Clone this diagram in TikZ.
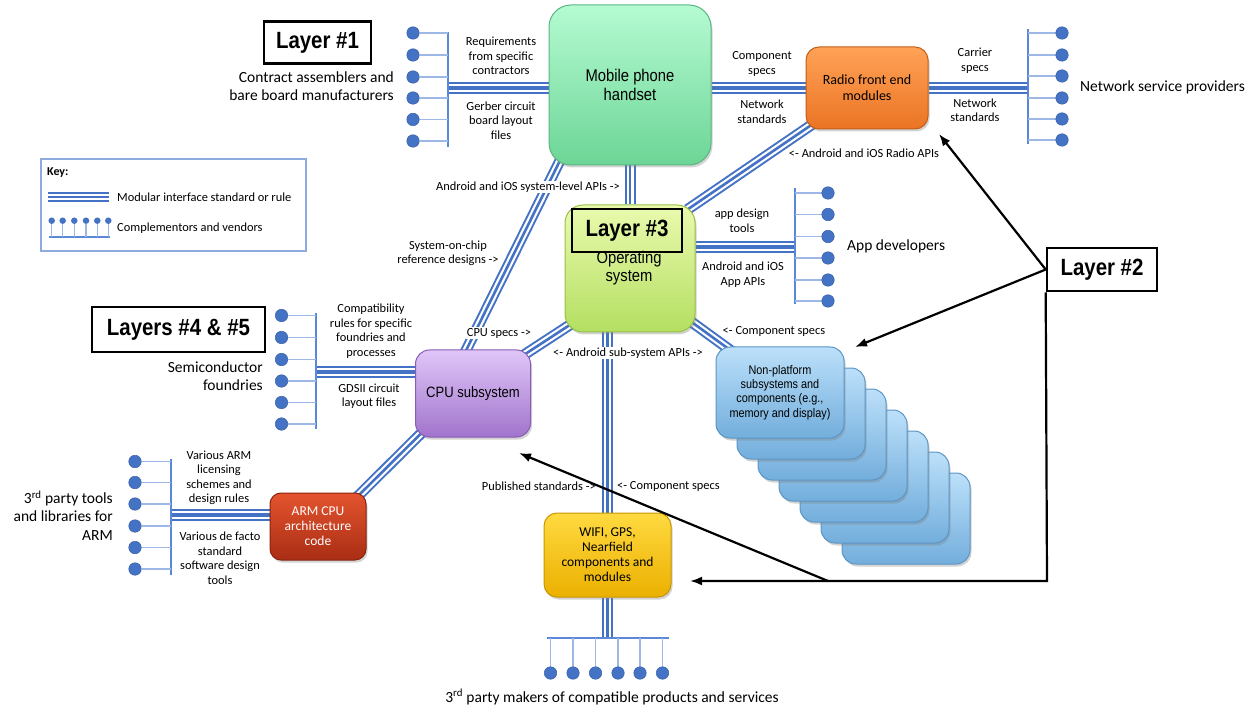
\documentclass[tikz,border=0pt]{standalone}
\usepackage{fontspec}
\setmainfont{Carlito}
\newfontfamily\nfont{Liberation Sans}[FakeStretch=0.87]
\newfontfamily\lfont{Liberation Sans}[FakeStretch=0.87]
\usetikzlibrary{shadows,arrows.meta,calc}
\pgfdeclarelayer{bg}
\pgfsetlayers{bg,main}
\definecolor{ifblue}{HTML}{4472C4}
\definecolor{busblue}{HTML}{5B88D6}
\definecolor{stubblue}{HTML}{9DB7E6}
\definecolor{keyblue}{HTML}{8FAADC}
\definecolor{hsT}{HTML}{B5FBD2}\definecolor{hsB}{HTML}{6CD596}\definecolor{hsD}{HTML}{5BB583}
\definecolor{rfT}{HTML}{FFA257}\definecolor{rfB}{HTML}{EB7424}\definecolor{rfD}{HTML}{C45D16}
\definecolor{osT}{HTML}{EAFAAE}\definecolor{osB}{HTML}{B4DF62}\definecolor{osD}{HTML}{98C048}
\definecolor{cpT}{HTML}{E0C6F8}\definecolor{cpB}{HTML}{A174CC}\definecolor{cpD}{HTML}{8A5CB5}
\definecolor{arT}{HTML}{E4542E}\definecolor{arB}{HTML}{A92D14}\definecolor{arD}{HTML}{8A2410}
\definecolor{wfT}{HTML}{FFDA40}\definecolor{wfB}{HTML}{EBB000}\definecolor{wfD}{HTML}{C99700}
\definecolor{npT}{HTML}{BCE0FA}\definecolor{npB}{HTML}{73AEDC}\definecolor{npD}{HTML}{5C95C4}
\tikzset{
  ifh/.style={draw=ifblue, line width=12pt, postaction={draw=white, line width=8pt}, postaction={draw=ifblue, line width=4pt}},
  ifd/.style={draw=ifblue, line width=11pt, postaction={draw=white, line width=7pt}, postaction={draw=ifblue, line width=2.6pt}},
  ifk/.style={draw=ifblue, line width=10pt, postaction={draw=white, line width=6.4pt}, postaction={draw=ifblue, line width=2pt}},
  cbox/.style={drop shadow={shadow xshift=1.5pt, shadow yshift=-2.5pt, opacity=0.35}, line width=1pt, align=center, inner sep=2pt},
  layerbox/.style={draw=black, line width=2.6pt, font=\lfont\bfseries\fontsize{23.5}{26}\selectfont, inner sep=0pt},
  lbl/.style={font=\fontsize{12.4}{14.5}\selectfont, align=center, inner sep=1pt},
  lblw/.style={lbl, fill=white},
  grp/.style={font=\fontsize{15.5}{18.5}\selectfont, inner sep=0pt},
  dot/.style={circle, fill=ifblue, draw=ifblue!85!black, line width=0.5pt, inner sep=0pt, minimum size=12.5pt},
  kdot/.style={circle, fill=ifblue, inner sep=0pt, minimum size=6.5pt},
  bus/.style={draw=busblue, line width=2pt},
  stub/.style={draw=stubblue, line width=1.4pt},
  arr/.style={draw=black, line width=2.2pt, -{Latex[length=12pt,width=9pt]}},
  npbox/.style={cbox, rounded corners=14pt, minimum width=128pt, minimum height=91pt, top color=npT, bottom color=npB, draw=npD},
}
\begin{document}
\begin{tikzpicture}[x=1pt,y=-1pt]
\useasboundingbox (0,0) rectangle (1255,708);

% ---------- boxes ----------
\node[cbox, rounded corners=22pt, minimum width=162pt, minimum height=160pt, top color=hsT, bottom color=hsB, draw=hsD,
      font=\nfont\fontsize{17}{19}\selectfont] (hs) at (630,85) {Mobile phone\\handset};
\node[cbox, rounded corners=13pt, minimum width=122pt, minimum height=82pt, top color=rfT, bottom color=rfB, draw=rfD,
      font=\fontsize{14}{16}\selectfont] (rf) at (867,88) {Radio front end\\modules};
\node[cbox, rounded corners=18pt, minimum width=130pt, minimum height=127pt, top color=osT, bottom color=osB, draw=osD] (os) at (630,268.5) {};
\node[font=\nfont\fontsize{17}{18}\selectfont, align=center, inner sep=0pt] (ostext) at (629,268) {Operating\\system};
\node[cbox, rounded corners=14pt, minimum width=115pt, minimum height=87pt, top color=cpT, bottom color=cpB, draw=cpD,
      font=\nfont\fontsize{15}{17}\selectfont] (cpu) at (473,393.5) {CPU subsystem};
\node[cbox, rounded corners=11pt, minimum width=96pt, minimum height=67pt, top color=arT, bottom color=arB, draw=arD,
      text=white, font=\fontsize{13.5}{15}\selectfont] (arm) at (318,526.5) {ARM CPU\\architecture\\code};
\node[cbox, rounded corners=13pt, minimum width=127pt, minimum height=84pt, top color=wfT, bottom color=wfB, draw=wfD,
      font=\fontsize{13.5}{15}\selectfont] (wifi) at (607.5,555) {WIFI, GPS,\\Nearfield\\components and\\modules};
\foreach \k in {6,5,4,3,2,1}{
  \node[npbox] (np\k) at ({780+21*\k},{392.5+21*\k}) {};
}
\node[npbox, font=\nfont\fontsize{12.5}{14.3}\selectfont] (np0) at (780,392.5) {Non-platform\\subsystems and\\components (e.g.,\\memory and display)};

% ---------- layer labels ----------
\node[layerbox, fill=white, minimum width=107pt, minimum height=42pt] (L1) at (317.5,42.5) {Layer \#1};
\node[layerbox, minimum width=110pt, minimum height=43pt] (L3) at (627,230.5) {Layer \#3};
\node[layerbox, fill=white, minimum width=110pt, minimum height=43pt] (L2) at (1102,269.5) {Layer \#2};
\node[layerbox, fill=white, minimum width=173pt, minimum height=45pt] (L45) at (178.5,329.5) {Layers \#4 \& \#5};

% ---------- bus coordinates ----------
\coordinate (b1t) at (448,32);   \coordinate (b1b) at (448,147);  \coordinate (b1m) at (448,88);
\coordinate (b2t) at (1028,29);  \coordinate (b2b) at (1028,144); \coordinate (b2m) at (1028,88);
\coordinate (b3t) at (795,188);  \coordinate (b3b) at (795,304);  \coordinate (b3m) at (795,247);
\coordinate (b4t) at (316,313);  \coordinate (b4b) at (316,429);  \coordinate (b4m) at (316,372);
\coordinate (b5l) at (547,638);  \coordinate (b5r) at (669,638);  \coordinate (b5m) at (607.5,638);
\coordinate (b6t) at (170.5,459);\coordinate (b6b) at (170.5,575);\coordinate (b6m) at (170.5,515);

% ---------- dots ----------
\foreach \y [count=\i] in {33,55,77,98,119.5,141}{\node[dot] (d1-\i) at (413,\y) {};}
\foreach \y [count=\i] in {33,55,76,98,119,140}{\node[dot] (d2-\i) at (1062,\y) {};}
\foreach \y [count=\i] in {193,214.5,236.5,258,280,301}{\node[dot] (d3-\i) at (828,\y) {};}
\foreach \y [count=\i] in {315.5,337.5,359.5,381,402.5,424}{\node[dot] (d4-\i) at (281.5,\y) {};}
\foreach \x [count=\i] in {550.5,573,595.5,618,640,662.5}{\node[dot] (d5-\i) at (\x,673) {};}
\foreach \y [count=\i] in {461.5,482.5,504,526,547.5,569}{\node[dot] (d6-\i) at (135,\y) {};}

% ---------- connectors (background) ----------
\begin{pgfonlayer}{bg}
  \draw[ifh] (b1m) -- (b1m -| hs.west);
  \draw[ifh] (rf.west -| hs.east) -- (rf.west);
  \draw[ifh] (rf.east) -- (b2m);
  \draw[ifd] ($(rf.south west)+(8,-6)$) -- ($(os.north east)+(-8,5)$);
  \draw[ifd] (hs.south) -- (os.north);
  \draw[ifd] ($(hs.south west)+(13,-8)$) -- ($(cpu.north)+(-8,3)$);
  \draw[ifd] ($(os.south west)+(6,-8)$) -- ($(cpu.north east)+(-8,6)$);
  \draw[ifd] ($(os.south east)+(-6,-12)$) -- ($(np0.north west)+(18,6)$);
  \draw[ifh] (b3m -| os.east) -- (b3m);
  \draw[ifd] (os.south -| wifi.north) -- (wifi.north);
  \draw[ifd] (wifi.south) -- (b5m);
  \draw[ifh] (b4m) -- (b4m -| cpu.west);
  \draw[ifd] ($(cpu.south west)+(8,-6)$) -- ($(arm.north east)+(-11,6)$);
  \draw[ifh] (b6m) -- (b6m -| arm.west);
  % buses
  \draw[bus] (b1t) -- (b1b);
  \draw[bus] (b2t) -- (b2b);
  \draw[bus] (b3t) -- (b3b);
  \draw[bus] (b4t) -- (b4b);
  \draw[bus] (b5l) -- (b5r);
  \draw[bus] (b6t) -- (b6b);
  \foreach \i in {1,...,6}{
    \draw[stub] (d1-\i.east) -- (d1-\i -| b1t);
    \draw[stub] (d2-\i.west) -- (d2-\i -| b2t);
    \draw[stub] (d3-\i.west) -- (d3-\i -| b3t);
    \draw[stub] (d4-\i.east) -- (d4-\i -| b4t);
    \draw[stub] (d5-\i.north) -- (d5-\i |- b5l);
    \draw[stub] (d6-\i.east) -- (d6-\i -| b6t);
  }
\end{pgfonlayer}

% ---------- connector labels ----------
\node[lbl] (t1) at (501,56) {Requirements\\from specific\\contractors};
\node[lbl] (t2) at (501,120.5) {Gerber circuit\\board layout\\files};
\node[lbl] (t3) at (762,64) {Component\\specs};
\node[lbl] (t4) at (762,111.5) {Network\\standards};
\node[lbl] (t5) at (975,60.5) {Carrier\\specs};
\node[lbl] (t6) at (975,110) {Network\\standards};
\node[lbl] (t7) at (864,153) {<- Android and iOS Radio APIs};
\node[lblw] (t8) at (528,187) {Android and iOS system-level APIs ->};
\node[lblw] (t9) at (448,253.5) {System-on-chip\\reference designs ->};
\node[lbl] (t10) at (742,220.5) {app design\\tools};
\node[lbl] (t11) at (743,274.5) {Android and iOS\\App APIs};
\node[lblw] (t12) at (499,333) {CPU specs ->};
\node[lbl] (t13) at (774,331) {<- Component specs};
\node[lblw] (t14) at (628,353) {<- Android sub-system APIs ->};
\node[lbl] (t15) at (371,331) {Compatibility\\rules for specific\\foundries and\\processes};
\node[lbl] (t16) at (369,396) {GDSII circuit\\layout files};
\node[lbl] (t17) at (219,478) {Various ARM\\licensing\\schemes and\\design rules};
\node[lbl] (t18) at (220,558) {Various de facto\\standard\\software design\\tools};
\node[lbl, anchor=east] (t19) at (597,486) {Published standards ->};
\node[lbl, anchor=west] (t20) at (616,486) {<- Component specs};

% ---------- group labels ----------
\node[grp, align=right, anchor=east] (g1) at (394,86) {Contract assemblers and\\bare board manufacturers};
\node[grp, anchor=west] (g2) at (1080,87) {Network service providers};
\node[grp, anchor=west] (g3) at (847,246) {App developers};
\node[grp, align=right, anchor=east] (g4) at (263,376) {Semiconductor\\foundries};
\node[grp, align=right, anchor=east] (g5) at (113,515.5) {3\textsuperscript{rd} party tools\\and libraries for\\ARM};
\node[grp, font=\fontsize{15.5}{18}\selectfont] (g6) at (612,697) {3\textsuperscript{rd} party makers of compatible products and services};

% ---------- key ----------
\node[draw=keyblue, line width=1.5pt, minimum width=265pt, minimum height=92pt, inner sep=0pt] (key) at (173.5,205) {};
\node[font=\bfseries\fontsize{12}{14}\selectfont, anchor=west, inner sep=0pt] (keyt) at (47,173) {Key:};
\coordinate (k1a) at (48,197); \coordinate (k1b) at (109,197);
\draw[ifk] (k1a) -- (k1b);
\node[lbl, anchor=west, inner sep=0pt] (k1t) at (117,197) {Modular interface standard or rule};
\coordinate (k2a) at (49,237); \coordinate (k2b) at (110,237);
\draw[stub, draw=busblue, line width=1.3pt] (k2a) -- (k2b);
\foreach \x [count=\i] in {51.7,62.7,74.3,86,97.3,108.3}{
  \node[kdot] (kd\i) at (\x,220.7) {};
  \draw[stub, line width=1.2pt] (kd\i.south) -- (kd\i |- k2a);
}
\node[lbl, anchor=west, inner sep=0pt] (k2t) at (117,228) {Complementors and vendors};

% ---------- layer #2 arrows ----------
\coordinate (aRad) at (939,134);
\coordinate (aNP) at (855,347);
\coordinate (cBR) at (1047,581);
\coordinate (cMid) at (828,581);
\coordinate (aWifi) at (690,581);
\coordinate (aCPU) at (519,453);
\draw[arr] (L2.west) -- (aRad);
\draw[arr] (L2.west) -- (aNP);
\draw[arr] (L2.south west) -- (cBR) -- (aWifi);
\draw[arr] (cMid) -- (aCPU);
\end{tikzpicture}
\end{document}
